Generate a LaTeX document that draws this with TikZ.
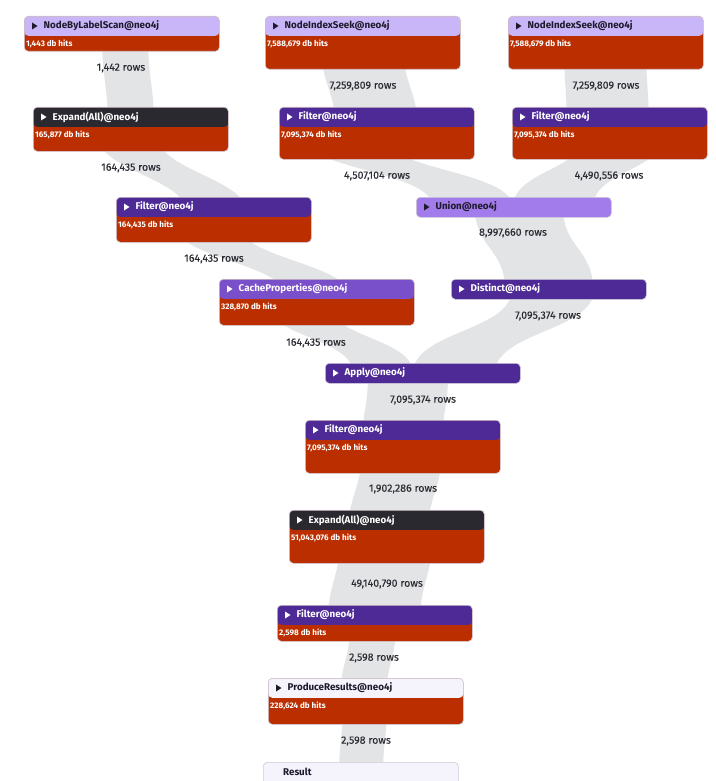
\documentclass[tikz,border=0pt]{standalone}
\usepackage{fontspec}
\setmainfont{Fira Sans}
\newfontfamily\rowsfont[FakeBold=0.2]{Fira Sans}
\usetikzlibrary{calc,backgrounds}

\definecolor{hitred}{HTML}{BB2E00}
\definecolor{lavhdr}{HTML}{C9B6F9}
\definecolor{darkhdr}{HTML}{2A2930}
\definecolor{purphdr}{HTML}{4D2A95}
\definecolor{unionhdr}{HTML}{A27CEA}
\definecolor{cachehdr}{HTML}{7A4FCA}
\definecolor{palehdr}{HTML}{F5F3FC}
\definecolor{boxedge}{HTML}{CFCAD8}
\definecolor{flowgray}{HTML}{E3E4E6}
\definecolor{rowtext}{HTML}{2B2B33}
\definecolor{titledark}{HTML}{1E1A2B}

\tikzset{
  opbox/.style={draw=boxedge, line width=0.6pt, rounded corners=4pt, fill=hitred,
    minimum width=195pt, minimum height=#1, anchor=north west, inner sep=0pt},
  hdr/.style={path picture={\fill[#1] (path picture bounding box.north west)
    rectangle ([yshift=-19.5pt]path picture bounding box.north east);}},
  optitle/.style={anchor=west, inner sep=0pt, font=\bfseries\fontsize{9.8}{10}\selectfont},
  ophits/.style={anchor=west, inner sep=0pt, text=white, font=\bfseries\fontsize{8.1}{9}\selectfont},
  rows/.style={inner sep=0pt, text=rowtext, font=\rowsfont\fontsize{10.6}{11}\selectfont},
  flowband/.style={fill=flowgray}
}

% operator with db hits: name, position, height, header colour, title colour, title, hits
\newcommand{\op}[7]{%
  \node[opbox=#3, hdr=#4] (#1) at (#2) {};
  \fill[#5] ([xshift=8pt,yshift=-6.5pt]#1.north west) -- ++(0,7) -- ++(5.5,-3.5) -- cycle;
  \node[optitle, text=#5] (#1-t) at ([xshift=19.5pt,yshift=-10pt]#1.north west) {#6};
  \node[ophits] (#1-h) at ([xshift=2pt,yshift=-27.5pt]#1.north west) {#7};
}
% operator without db hits: name, position, colour, title colour, title
\newcommand{\barop}[5]{%
  \node[opbox=20pt, fill=#3] (#1) at (#2) {};
  \fill[#4] ([xshift=8pt,yshift=-6.5pt]#1.north west) -- ++(0,7) -- ++(5.5,-3.5) -- cycle;
  \node[optitle, text=#4] (#1-t) at ([xshift=19.5pt,yshift=-10pt]#1.north west) {#5};
}
% rows band: from, x at top, to, x at bottom, width
\newcommand{\flow}[5]{%
  \fill[flowband] let \p1=(#1.center), \p2=(#3.center),
      \p3=($(#1.center)!0.5!(#3.center)$) in
    (#2pt,\y1) .. controls (#2pt,\y3) and (#4pt,\y3) .. (#4pt,\y2)
    -- ({#4pt+#5pt},\y2) .. controls ({#4pt+#5pt},\y3) and ({#2pt+#5pt},\y3)
    .. ({#2pt+#5pt},\y1) -- cycle;
}

\begin{document}
\begin{tikzpicture}[x=1pt, y=-1pt]
  \useasboundingbox (0,0) rectangle (715,781);

  % operators
  \op{nbls}{24,16}{35pt}{lavhdr}{titledark}{NodeByLabelScan@neo4j}{1,443 db hits}
  \op{nisA}{265,16}{53pt}{lavhdr}{titledark}{NodeIndexSeek@neo4j}{7,588,679 db hits}
  \op{nisB}{508,16}{53pt}{lavhdr}{titledark}{NodeIndexSeek@neo4j}{7,588,679 db hits}
  \op{expA}{33,107}{44pt}{darkhdr}{white}{Expand(All)@neo4j}{165,877 db hits}
  \op{filA}{279,107}{52pt}{purphdr}{white}{Filter@neo4j}{7,095,374 db hits}
  \op{filB}{512,107}{52pt}{purphdr}{white}{Filter@neo4j}{7,095,374 db hits}
  \op{filC}{116,197}{45pt}{purphdr}{white}{Filter@neo4j}{164,435 db hits}
  \barop{union}{416,197}{unionhdr}{titledark}{Union@neo4j}
  \op{cache}{219,279}{46pt}{cachehdr}{white}{CacheProperties@neo4j}{328,870 db hits}
  \barop{distinct}{451,279}{purphdr}{white}{Distinct@neo4j}
  \barop{apply}{325,363}{purphdr}{white}{Apply@neo4j}
  \op{filD}{305,420}{53pt}{purphdr}{white}{Filter@neo4j}{7,095,374 db hits}
  \op{expB}{289,510}{53pt}{darkhdr}{white}{Expand(All)@neo4j}{51,043,076 db hits}
  \op{filE}{277,605}{36pt}{purphdr}{white}{Filter@neo4j}{2,598 db hits}
  \op{produce}{268,678}{46pt}{palehdr}{titledark}{ProduceResults@neo4j}{228,624 db hits}
  \node[opbox=30pt, fill=palehdr] (result) at (263,762) {};
  \node[optitle, text=titledark] (result-t) at ([xshift=20pt,yshift=-10pt]result.north west) {Result};

  % row counts
  \node[rows] (r-nbls) at (121,68) {1,442 rows};
  \node[rows] (r-nisA) at (363,86) {7,259,809 rows};
  \node[rows] (r-nisB) at (606,86) {7,259,809 rows};
  \node[rows] (r-expA) at (131,168) {164,435 rows};
  \node[rows] (r-filA) at (377,176) {4,507,104 rows};
  \node[rows] (r-filB) at (609,176) {4,490,556 rows};
  \node[rows] (r-filC) at (214,259) {164,435 rows};
  \node[rows] (r-union) at (513,233) {8,997,660 rows};
  \node[rows] (r-cache) at (316,343) {164,435 rows};
  \node[rows] (r-distinct) at (548,316) {7,095,374 rows};
  \node[rows] (r-apply) at (423,400) {7,095,374 rows};
  \node[rows] (r-filD) at (403,489) {1,902,286 rows};
  \node[rows] (r-expB) at (387,584) {49,140,790 rows};
  \node[rows] (r-filE) at (374,658) {2,598 rows};
  \node[rows] (r-produce) at (366,741) {2,598 rows};

  % bands behind the operators
  \begin{pgfonlayer}{background}
    \fill[white] (0,0) rectangle (715,781);
    \flow{nbls}{102}{expA}{108}{46}
    \flow{expA}{95}{filC}{190}{60}
    \flow{nisA}{321}{filA}{336}{82}
    \flow{nisB}{564}{filB}{567}{82}
    \flow{filA}{300}{union}{433}{80}
    \flow{filB}{585}{union}{513}{80}
    \flow{union}{475}{distinct}{505}{88}
    \flow{filC}{172}{cache}{290}{64}
    \flow{cache}{268}{apply}{353}{60}
    \flow{distinct}{512}{apply}{413}{82}
    \flow{apply}{368}{filD}{362}{80}
    \flow{filD}{362}{expB}{348}{80}
    \flow{expB}{340}{filE}{328}{92}
    \flow{filE}{350}{produce}{340}{46}
    \flow{produce}{343}{result}{339}{44}
  \end{pgfonlayer}
\end{tikzpicture}
\end{document}
